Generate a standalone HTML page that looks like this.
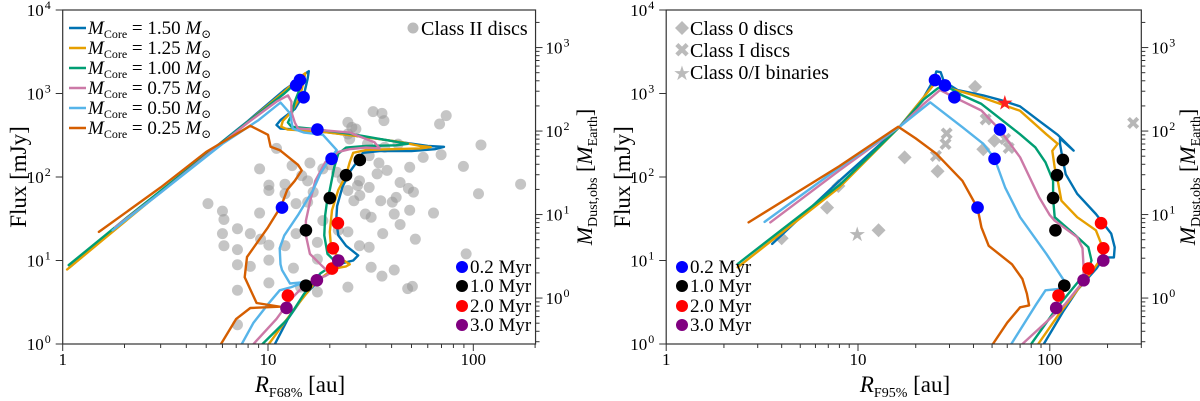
<!DOCTYPE html>
<html><head><meta charset="utf-8"><style>
html,body{margin:0;padding:0;background:#fff;}
svg{display:block;font-family:"Liberation Serif","DejaVu Serif",serif;}
</style></head><body>
<svg id="fig" width="1200" height="401" viewBox="0 0 1200 401" xmlns="http://www.w3.org/2000/svg">
<defs>
<clipPath id="clipL"><rect x="62.7" y="10" width="473" height="334"/></clipPath>
<clipPath id="clipR"><rect x="666.2" y="10" width="475.2" height="334"/></clipPath>
</defs>
<g id="gL"></g>
<g id="gR"></g>

<!-- axis titles -->
<text transform="translate(26,177) rotate(-90)" text-anchor="middle" font-size="23">Flux [mJy]</text>
<text transform="translate(630,177) rotate(-90)" text-anchor="middle" font-size="23">Flux [mJy]</text>
<text x="300" y="392" text-anchor="middle" font-size="23"><tspan font-style="italic">R</tspan><tspan font-size="14" dy="5">F68%</tspan><tspan dy="-5"> [au]</tspan></text>
<text x="905" y="392" text-anchor="middle" font-size="23"><tspan font-style="italic">R</tspan><tspan font-size="14" dy="5">F95%</tspan><tspan dy="-5"> [au]</tspan></text>
<text transform="translate(592,177) rotate(-90)" text-anchor="middle" font-size="22"><tspan font-style="italic">M</tspan><tspan font-size="14" dy="5">Dust,obs</tspan><tspan dy="-5"> [</tspan><tspan font-style="italic">M</tspan><tspan font-size="14" dy="5">Earth</tspan><tspan dy="-5">]</tspan></text>
<text transform="translate(1195,177) rotate(-90)" text-anchor="middle" font-size="22"><tspan font-style="italic">M</tspan><tspan font-size="14" dy="5">Dust,obs</tspan><tspan dy="-5"> [</tspan><tspan font-style="italic">M</tspan><tspan font-size="14" dy="5">Earth</tspan><tspan dy="-5">]</tspan></text>

<!-- left mass legend -->
<g font-size="19">
<g><line x1="69" y1="28" x2="86" y2="28" stroke="#0072B2" stroke-width="2.5"/><text x="88" y="34"><tspan font-style="italic">M</tspan><tspan font-size="12" dy="4">Core</tspan><tspan dy="-4"> = 1.50 </tspan><tspan font-style="italic">M</tspan><tspan font-size="12" dy="4">⊙</tspan></text></g>
<g><line x1="69" y1="48" x2="86" y2="48" stroke="#E69F00" stroke-width="2.5"/><text x="88" y="54"><tspan font-style="italic">M</tspan><tspan font-size="12" dy="4">Core</tspan><tspan dy="-4"> = 1.25 </tspan><tspan font-style="italic">M</tspan><tspan font-size="12" dy="4">⊙</tspan></text></g>
<g><line x1="69" y1="68" x2="86" y2="68" stroke="#009E73" stroke-width="2.5"/><text x="88" y="74"><tspan font-style="italic">M</tspan><tspan font-size="12" dy="4">Core</tspan><tspan dy="-4"> = 1.00 </tspan><tspan font-style="italic">M</tspan><tspan font-size="12" dy="4">⊙</tspan></text></g>
<g><line x1="69" y1="88" x2="86" y2="88" stroke="#CC79A7" stroke-width="2.5"/><text x="88" y="94"><tspan font-style="italic">M</tspan><tspan font-size="12" dy="4">Core</tspan><tspan dy="-4"> = 0.75 </tspan><tspan font-style="italic">M</tspan><tspan font-size="12" dy="4">⊙</tspan></text></g>
<g><line x1="69" y1="108" x2="86" y2="108" stroke="#56B4E9" stroke-width="2.5"/><text x="88" y="114"><tspan font-style="italic">M</tspan><tspan font-size="12" dy="4">Core</tspan><tspan dy="-4"> = 0.50 </tspan><tspan font-style="italic">M</tspan><tspan font-size="12" dy="4">⊙</tspan></text></g>
<g><line x1="69" y1="128" x2="86" y2="128" stroke="#D55E00" stroke-width="2.5"/><text x="88" y="134"><tspan font-style="italic">M</tspan><tspan font-size="12" dy="4">Core</tspan><tspan dy="-4"> = 0.25 </tspan><tspan font-style="italic">M</tspan><tspan font-size="12" dy="4">⊙</tspan></text></g>
</g>
<g font-size="20">
<circle cx="413" cy="28" r="5.5" fill="#bbb"/><text x="421" y="35">Class II discs</text>
</g>
<g font-size="20" fill="#000">
<path d="M682,21 L689,28 L682,35 L675,28 Z" fill="#bbb"/><text x="690" y="35">Class 0 discs</text>
<text x="682" y="57" font-size="20" fill="#bbb" text-anchor="middle" font-family="DejaVu Sans,sans-serif">✖</text><text x="690" y="57">Class I discs</text>
<text x="682" y="80" font-size="20" fill="#bbb" text-anchor="middle" font-family="DejaVu Sans,sans-serif">★</text><text x="690" y="79">Class 0/I binaries</text>
</g>
<g font-size="19">
<circle cx="462" cy="267" r="6" fill="#0000ff"/><text x="470" y="273">0.2 Myr</text>
<circle cx="462" cy="286" r="6" fill="#000"/><text x="470" y="292">1.0 Myr</text>
<circle cx="462" cy="306" r="6" fill="#ff0000"/><text x="470" y="312">2.0 Myr</text>
<circle cx="462" cy="325" r="6" fill="#800080"/><text x="470" y="331">3.0 Myr</text>
</g>
<g font-size="19">
<circle cx="682" cy="267" r="6" fill="#0000ff"/><text x="690" y="273">0.2 Myr</text>
<circle cx="682" cy="286" r="6" fill="#000"/><text x="690" y="292">1.0 Myr</text>
<circle cx="682" cy="306" r="6" fill="#ff0000"/><text x="690" y="312">2.0 Myr</text>
<circle cx="682" cy="325" r="6" fill="#800080"/><text x="690" y="331">3.0 Myr</text>
</g>
</svg>
<script>
// ---------- data ----------
const xTicksL = [1, 10, 100];
const xTicksR = [1, 10, 100];
const yTicks = [1, 10, 100, 1000, 10000];
const yTickExp = ["0", "1", "2", "3", "4"];
const mTicks = [1, 10, 100, 1000];
const mTickExp = ["0", "1", "2", "3"];
const fluxPerEarthMass = 3.55;
const massNames = ["1.50", "1.25", "1.00", "0.75", "0.50", "0.25"];
const massColors = ["#0072B2", "#E69F00", "#009E73", "#CC79A7", "#56B4E9", "#D55E00"];

// left panel: R68 [au], Flux [mJy]
const L150 = [[1.08,8.3],[2,30],[4,120],[8,470],[12,1100],[13.5,1350],[15,1700],[15.8,1850],[15.6,1500],[15,1000],[13.5,650],[11.5,480],[11,420],[11.5,380],[14,370],[20,340],[30,300],[45,260],[60,235],[72,230],[65,215],[50,205],[35,205],[29,195],[28,170],[27,150],[25,115],[23,75],[21.7,45],[21.5,30],[22,20],[24,15],[27.5,11.5],[26,10],[22,9],[18,6],[15,3.8],[12.5,2],[10.8,1]];
const L125 = [[1.05,7.8],[2,29],[4,118],[8,460],[12,1050],[14,1500],[15.2,1750],[14.8,1300],[14.3,900],[13,600],[11.8,470],[11.6,400],[12.5,370],[18,350],[30,300],[45,260],[55,235],[62,228],[55,220],[40,215],[30,210],[26,195],[25,150],[24,105],[22,70],[20.5,40],[20,22],[20.3,14],[22,11],[25,9],[24,8.5],[21,8],[17,5.5],[14,3],[12,1.8],[10.1,1]];
const L100 = [[1.07,8.8],[2,31],[4,120],[8,460],[12,1000],[13.5,1300],[14.5,1450],[14.2,1100],[13.5,800],[13,550],[12.5,450],[13,400],[16,380],[25,330],[40,270],[48,250],[42,240],[30,235],[24,225],[22,190],[21,130],[20,70],[19.5,56],[19,35],[18.8,20],[19.5,12],[21,10],[23,9.5],[21,9],[18,7],[15,4],[12.5,2],[9.4,1]];
const L075 = [[1.8,25],[3,65],[5,180],[8,450],[11,800],[12.5,950],[13,800],[13,600],[13.5,450],[14,380],[17,370],[25,340],[33,260],[35,220],[30,225],[25,215],[22,200],[19,150],[17,90],[16,50],[15.3,30],[15.3,20],[16,12],[18,9],[20,7],[19,6.5],[17,6],[15,5],[13,3.5],[11,2],[8.5,1]];
const L050 = [[1.75,23],[3,65],[6,250],[9,480],[11.5,780],[12.8,580],[13.2,380],[15,340],[18.5,320],[21.6,210],[20,165],[18,110],[16.6,70],[14,35],[12,20],[11.4,14],[11.5,9],[11.7,7.7],[12.8,5.3],[15,5.5],[13,4.8],[11.4,4.4],[10,3],[8.5,1.8],[7.45,1]];
const L025 = [[1.5,22],[3,75],[5,200],[8.2,410],[10,320],[10.3,230],[11.4,210],[14,140],[14.6,120],[13.5,90],[12.4,70],[11.6,45],[10,25],[7.9,11],[7.7,6.3],[8.8,3.1],[11.4,2.8],[8.2,2.7],[7,2],[5.9,1]];

// right panel: R95 [au], Flux [mJy]
const R150 = [[3.57,15.8],[8,90],[16.5,400],[22,900],[25,1500],[25.6,1840],[27,1800],[28,1400],[33,1100],[45,950],[56,830],[70,700],[88,470],[110,320],[133,207],[113,290],[113,250],[115,200],[117,160],[121,108],[139,63],[174,36],[209,21],[218,14.4],[216,10.9],[192,10.9],[175,8],[140,4.5],[118,2.5],[93,1]];
const R125 = [[2.36,8.3],[8,75],[16.5,400],[22,900],[25,1300],[25.6,1420],[30,1150],[44,900],[70,620],[96,325],[110,250],[103,206],[106,130],[109,101],[115,52],[139,33],[174,23],[190,13.7],[185,10.5],[170,8],[140,4.5],[112,2.3],[87,1]];
const R100 = [[2.36,9.1],[8,80],[16.5,400],[22,850],[26,1150],[28.6,1240],[35,950],[44,750],[70,325],[84,227],[95,150],[104,90],[104,55],[106,33],[133,21],[159,14.4],[165,10],[159,7.9],[140,5.5],[110,2.8],[80,1]];
const R075 = [[3.49,28.6],[8,120],[16.5,400],[22,750],[26.8,1100],[31.8,900],[44,625],[55,365],[70,172],[88,57],[100,35],[106,30],[139,19],[148,14],[150,8.3],[150,5.7],[120,3],[95,1.8],[72,1]];
const R050 = [[3.26,29],[8,130],[16.5,400],[23.8,785],[35,395],[45,250],[51.5,167],[58.5,75],[70,33],[96,12],[119,5.7],[115,4.6],[95,4.4],[85,3],[63,1]];
const R025 = [[2.69,28.6],[8,135],[16.2,400],[20,290],[25.6,190],[35,90],[42,42.5],[44,25],[48,15],[63.5,9],[72,6],[76,4],[78,2.9],[70,2.75],[60,1.8],[50.5,1]];

// age markers
const ageColors = ["#0000ff", "#000000", "#ff0000", "#800080"];
const ageLabels = ["0.2 Myr", "1.0 Myr", "2.0 Myr", "3.0 Myr"];
const ageFlux = [[1450,1250,900,370,165,43],[160,105,56,23,5],[28,14,8,3.8],[10,5.8,2.7]];
const ageR68 = [[14.3,13.7,14.9,17.4,20.4,11.7],[28,24,20,15.3,15.3],[21.9,20.7,20.5,12.5],[22,17.3,12.3]];
const ageR95 = [[25.2,28.4,31.8,55,51.5,42],[117,109,104,107,119],[185,190,159,111],[190,150,108]];

// observations
const classIIR = [32.5,35.9,36.7,73.8,68.5,24.5,25.6,26.8,24.5,25,30.5,43,37,109,31.1,57,69.7,89.5,170,34.7,11,9.1,13.1,16,18.5,14.6,21.6,27.9,27.3,34,49,10.1,12.1,10.1,12.1,15.6,16.6,24.5,31.1,44,48.3,51.1,42.1,35.4,40.3,64,106,5.1,6,6.1,9.1,13.7,15.6,18.5,22,26.2,29.8,31.8,41.2,49,44,52.2,6.1,7.1,8.2,7.1,9.2,10.1,12.1,13.7,17.4,24.5,27.9,36.2,6,7.1,8.2,10.1,13.3,17.4,31.8,41.2,35.9,92.3,10.1,7.1,24.5,47.9,50.5,14.4,7.1,17.4,31.1,20,23,28,38];
const classIIF = [606,579,473,543,431,451,393,376,327,285,248,248,227,242,180,172,185,134,82,147,220,125,137,147,125,104,114,90,79,109,131,80,82,69,63,90,66,69,75,86,73,66,57,52,50,37,63,48,39,31,37,48,50,30,23,52,36,33,36,40,27,18,15,24,21,13.5,18,15.3,15,21,16.5,22,15,21,21,8.9,8.5,10.1,8.1,10.4,8.3,7.7,6.5,12,5.4,4.4,4.8,4.6,4.9,4.8,1.7,4.2,14.4,140,95,60,120];
const class0R = [40.8,51.4,45,17.5,26,7.9,6.9,12.8,4.0];
const class0F = [1200,272,215,172,117,78,43,23,18.5];
const classIR = [46.3,29,28.6,25.5,58.5,61,272];
const classIF = [495,335,253,180,290,227,450];
const binaryR = [9.9];
const binaryF = [20.8];
const highlightR = [58.3];
const highlightF = [785];

// ---------- axes ----------
const NS = "http://www.w3.org/2000/svg";
const Y0 = 344, DECY = 83.5, YTOP = 10;
function sy(f){ return Y0 - DECY * Math.log10(f); }
function mk(tag, attrs, parent){
  const e = document.createElementNS(NS, tag);
  for (const k in attrs) e.setAttribute(k, attrs[k]);
  parent.appendChild(e);
  return e;
}
const panels = [
  {g: document.getElementById('gL'), x0: 62.7, dec: 205.3, xmax: 201, clip: 'clipL', xt: xTicksL,
   curves: [L150, L125, L100, L075, L050, L025], ageR: ageR68},
  {g: document.getElementById('gR'), x0: 666.2, dec: 191.8, xmax: 300, clip: 'clipR', xt: xTicksR,
   curves: [R150, R125, R100, R075, R050, R025], ageR: ageR95}
];

panels.forEach((p, pi) => {
  const sx = r => p.x0 + p.dec * Math.log10(r);
  const x1 = sx(p.xmax);
  const g = p.g;
  const side = pi === 0 ? 'left' : 'right';
  // scatter (under lines)
  const sc = mk('g', {'clip-path': 'url(#' + p.clip + ')'}, g);
  
  
  if (pi === 0) {
    classIIR.forEach((r, i) => {
      const c = mk('circle', {cx: sx(r), cy: sy(classIIF[i]), r: 5.5, fill: 'rgba(150,150,150,0.55)'}, sc);
      
      
    });
  } else {
    class0R.forEach((r, i) => {
      const x = sx(r), y = sy(class0F[i]);
      const d = mk('path', {d: `M${x},${y-7} L${x+7},${y} L${x},${y+7} L${x-7},${y} Z`, fill: 'rgba(170,170,170,0.8)'}, sc);
      
      
    });
    classIR.forEach((r, i) => {
      const t = mk('text', {x: sx(r), y: sy(classIF[i]) + 7, 'text-anchor': 'middle', 'font-size': 18, fill: 'rgba(170,170,170,0.85)', 'font-family': 'DejaVu Sans,sans-serif'}, sc);
      t.textContent = '✖';
      
      
    });
    binaryR.forEach((r, i) => {
      const t = mk('text', {x: sx(r), y: sy(binaryF[i]) + 7, 'text-anchor': 'middle', 'font-size': 20, fill: 'rgba(170,170,170,0.85)', 'font-family': 'DejaVu Sans,sans-serif'}, sc);
      t.textContent = '★';
      
      
    });
  }
  // curves
  const cg = mk('g', {'clip-path': 'url(#' + p.clip + ')'}, g);
  
  
  p.curves.forEach((pts, ci) => {
    const d = pts.map((q, i) => (i ? 'L' : 'M') + sx(q[0]).toFixed(1) + ',' + sy(q[1]).toFixed(1)).join(' ');
    const path = mk('path', {d: d, fill: 'none', stroke: massColors[ci], 'stroke-width': 2.4, 'stroke-linejoin': 'round', 'stroke-linecap': 'round'}, cg);
    
    
  });
  // age dots
  const dg = mk('g', {}, g);
  
  
  ageFlux.forEach((fl, ai) => {
    fl.forEach((f, k) => {
      const c = mk('circle', {cx: sx(p.ageR[ai][k]), cy: sy(f), r: 6.3, fill: ageColors[ai]}, dg);
      
      
    });
  });
  if (pi === 1) {
    highlightR.forEach((r, i) => {
      const t = mk('text', {x: sx(r), y: sy(highlightF[i]) + 7, 'text-anchor': 'middle', 'font-size': 20, fill: '#ff2020', 'font-family': 'DejaVu Sans,sans-serif'}, dg);
      t.textContent = '★';
      
      
    });
  }
  // frame
  const fr = mk('rect', {x: p.x0, y: YTOP, width: x1 - p.x0, height: Y0 - YTOP, fill: 'none', stroke: '#333', 'stroke-width': 1.2}, g);
  
  
  // x ticks
  const ax = mk('g', {stroke: '#333', 'stroke-width': 1}, g);
  
  
  for (let e = 0; e < 3; e++) {
    for (let m = 1; m < 10; m++) {
      const v = m * Math.pow(10, e);
      if (v > p.xmax) break;
      const x = sx(v);
      mk('line', {x1: x, y1: Y0, x2: x, y2: Y0 + (m === 1 ? 7 : 4)}, ax);
    }
  }
  p.xt.forEach(v => {
    const t = mk('text', {x: sx(v), y: 365, 'text-anchor': 'middle', 'font-size': 17, stroke: 'none', fill: '#000'}, g);
    t.textContent = String(v);
    
    
  });
  // y ticks
  const ay = mk('g', {stroke: '#333', 'stroke-width': 1}, g);
  
  
  yTicks.forEach((v, i) => {
    const y = sy(v);
    mk('line', {x1: p.x0 - 7, y1: y, x2: p.x0, y2: y}, ay);
    const t = mk('text', {x: p.x0 - 19, y: y + 6, 'text-anchor': 'end', 'font-size': 17, stroke: 'none', fill: '#000'}, g);
    t.textContent = '10';
    
    
    const s = mk('text', {x: p.x0 - 18, y: y - 1, 'font-size': 12, fill: '#000'}, g);
    s.textContent = yTickExp[i];
    
    
  });
  // secondary mass axis
  const am = mk('g', {stroke: '#333', 'stroke-width': 1}, g);
  
  
  mTicks.forEach((v, i) => {
    const y = sy(v * fluxPerEarthMass);
    mk('line', {x1: x1, y1: y, x2: x1 + 7, y2: y}, am);
    const t = mk('text', {x: x1 + 10, y: y + 6, 'font-size': 17, stroke: 'none', fill: '#000'}, g);
    t.textContent = '10';
    
    
    const s = mk('text', {x: x1 + 28, y: y - 1, 'font-size': 12, fill: '#000'}, g);
    s.textContent = mTickExp[i];
    
    
  });
  for (let e = -1; e < 4; e++) {
    for (let m = 2; m < 10; m++) {
      const f = m * Math.pow(10, e) * fluxPerEarthMass;
      if (f < 1 || f > 10000) continue;
      const y = sy(f);
      mk('line', {x1: x1, y1: y, x2: x1 + 4, y2: y}, am);
    }
  }
});
</script>
</body></html>
